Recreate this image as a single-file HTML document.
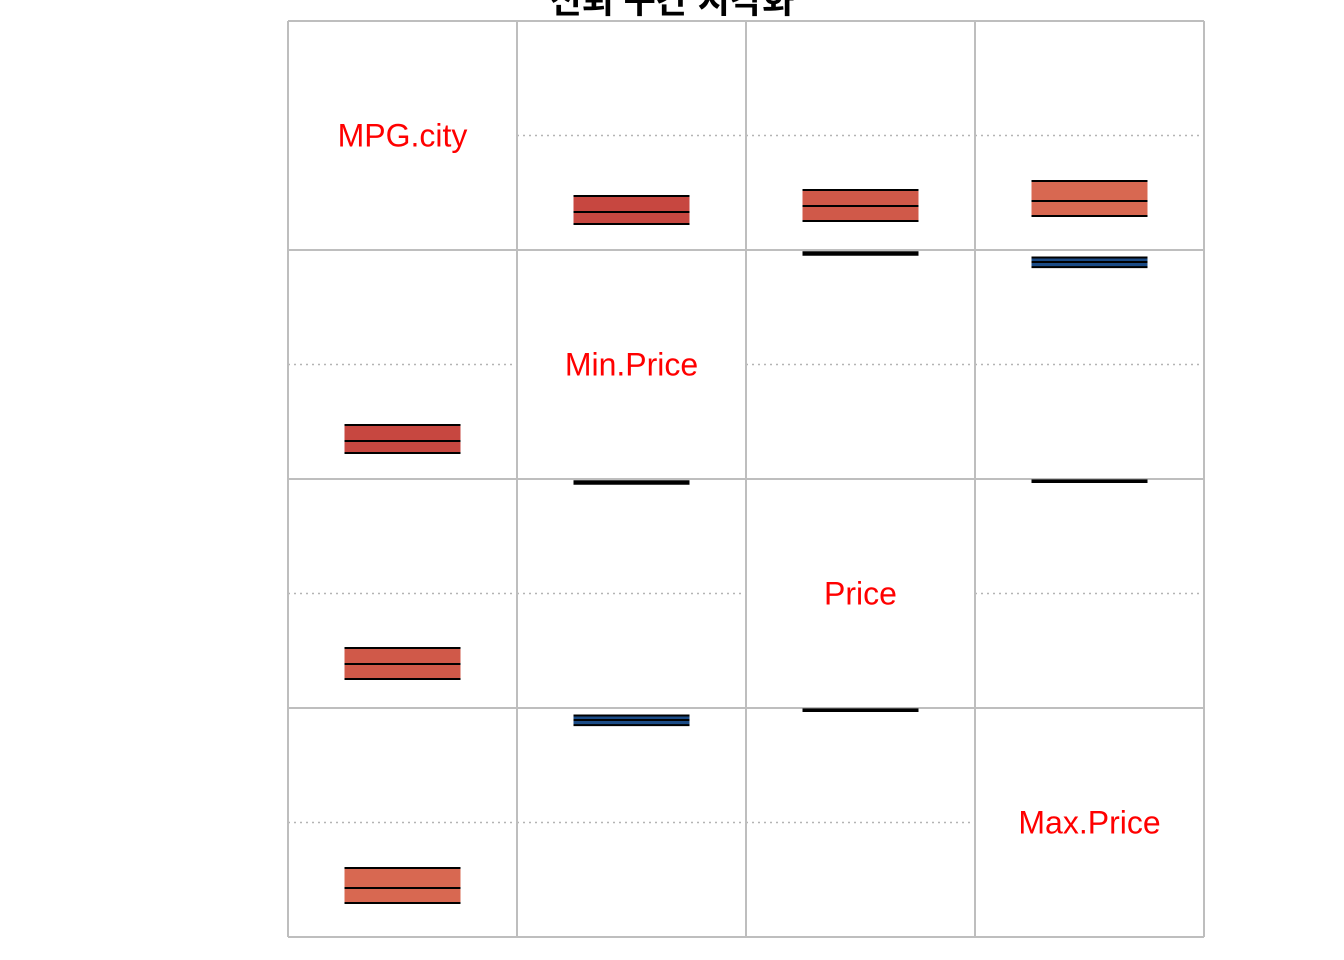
<!DOCTYPE html>
<html><head><meta charset="utf-8"><style>
html,body{margin:0;padding:0;background:#fff;width:1344px;height:960px;overflow:hidden}
svg{display:block}
</style></head><body>
<svg id="chart" width="1344" height="960" xmlns="http://www.w3.org/2000/svg">
<text x="672" y="13" text-anchor="middle" font-family="'Liberation Sans','Noto Sans CJK KR',sans-serif" font-weight="bold" font-size="35" fill="#000">신뢰 구간 시각화</text>
<g id="marks"></g>
</svg>
<script>
const variables = ["MPG.city","Min.Price","Price","Max.Price"];
const estimates = [
  [1, -0.668, -0.616, -0.572],
  [-0.668, 1, 0.971, 0.895],
  [-0.616, 0.971, 1, 0.982],
  [-0.572, 0.895, 0.982, 1]
];
const lowerCI = [
  [1, -0.773, -0.747, -0.703],
  [-0.773, 1, 0.958, 0.85],
  [-0.747, 0.958, 1, 0.974],
  [-0.703, 0.85, 0.974, 1]
];
const upperCI = [
  [1, -0.528, -0.476, -0.397],
  [-0.528, 1, 0.98, 0.935],
  [-0.476, 0.98, 1, 0.988],
  [-0.397, 0.935, 0.988, 1]
];

const NS="http://www.w3.org/2000/svg";
const g=document.getElementById('marks');
const x0=288,y0=21,cell=229,n=variables.length;
function colX(j){return x0+j*cell;}
function rowY(i){return y0+i*cell;}
function valY(i,v){return rowY(i)+cell/2 - v*cell/2;}
const stops=[[-1,[0x67,0,0x1f]],[-0.7,[0xc2,0x3c,0x3a]],[-0.5,[0xe4,0x80,0x5e]],[0,[0xf7,0xf7,0xf7]],[0.5,[0x43,0x93,0xc3]],[0.9,[0x1a,0x4a,0x85]],[1,[0x05,0x30,0x61]]];
function color(v){
  for(let k=0;k<stops.length-1;k++){
    const [a,ca]=stops[k],[b,cb]=stops[k+1];
    if(v>=a&&v<=b){const t=(v-a)/(b-a);return 'rgb('+ca.map((c,m)=>Math.round(c+(cb[m]-c)*t)).join(',')+')';}
  }
  return '#053061';
}
function mk(tag,attrs){const e=document.createElementNS(NS,tag);for(const k in attrs)e.setAttribute(k,attrs[k]);g.appendChild(e);return e;}

for(let i=0;i<n;i++){for(let j=0;j<n;j++){if(i===j)continue;
  const l=mk('line',{x1:colX(j),x2:colX(j)+cell,y1:rowY(i)+cell/2,y2:rowY(i)+cell/2,stroke:'#b4b4b4','stroke-width':1.6,'stroke-dasharray':'2,4'});
  
  
}}
for(let k=0;k<=n;k++){
  const v=mk('line',{x1:colX(k),x2:colX(k),y1:y0,y2:y0+n*cell,stroke:'#bebebe','stroke-width':2});
  
  
  const h=mk('line',{x1:x0,x2:x0+n*cell,y1:rowY(k),y2:rowY(k),stroke:'#bebebe','stroke-width':2});
  
  
}
for(let i=0;i<n;i++){for(let j=0;j<n;j++){
  if(i===j){
    const t=mk('text',{x:colX(j)+cell/2,y:rowY(i)+cell/2+11,'text-anchor':'middle','font-family':"'Liberation Sans',sans-serif",'font-size':32,fill:'#ff0000'});
    t.textContent=variables[i];
    
    
    continue;
  }
  const xl=colX(j)+56.5,w=cell-113;
  const yt=valY(i,upperCI[i][j]),yb=valY(i,lowerCI[i][j]),ye=valY(i,estimates[i][j]);
  const r=mk('rect',{x:xl,y:yt,width:w,height:Math.max(yb-yt,1),fill:color(estimates[i][j])});
  
  
  [yt,ye,yb].forEach(y=>{
    const l=mk('line',{x1:xl,x2:xl+w,y1:y,y2:y,stroke:'#000','stroke-width':2});
    
    
  });
}}
</script>
</body></html>
